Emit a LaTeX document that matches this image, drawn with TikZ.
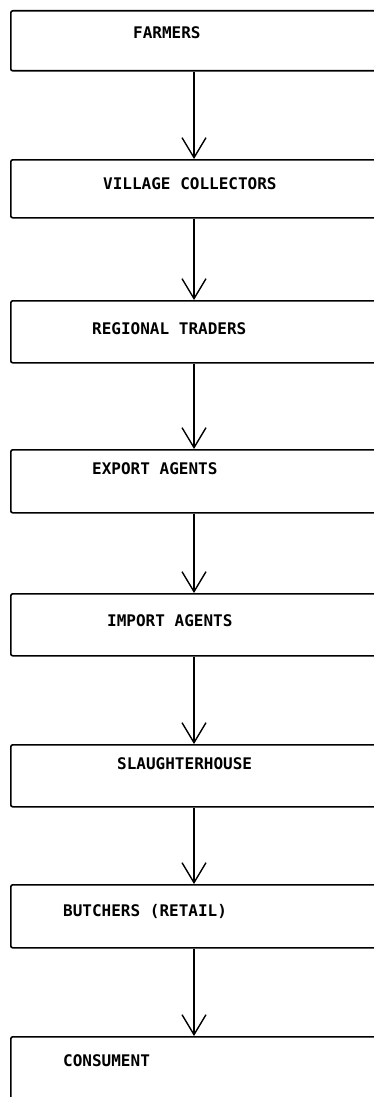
\documentclass[tikz,border=0pt]{standalone}
\usepackage{fontspec}
\newfontfamily\boxfont{DejaVu Sans Mono}
\usetikzlibrary{arrows.meta}
\tikzset{
  stagebox/.style={draw, line width=1.6pt, rounded corners=2pt, rectangle, anchor=north west, minimum width=420pt, inner sep=0pt},
  stagetext/.style={anchor=base west, inner sep=0pt, font=\boxfont\bfseries\fontsize{16}{18}\selectfont},
  flow/.style={line width=1.4pt, -{Straight Barb[length=20pt,width=24pt,line width=1.4pt]}}
}
\begin{document}
\begin{tikzpicture}[x=1pt,y=-1pt]
\useasboundingbox (0,0) rectangle (374,1097);
\clip (0,0) rectangle (374,1097);
\node[stagebox, minimum height=60pt] (b1) at (10,10) {};
\node[stagebox, minimum height=58pt] (b2) at (10,159) {};
\node[stagebox, minimum height=62pt] (b3) at (10,300) {};
\node[stagebox, minimum height=63pt] (b4) at (10,449) {};
\node[stagebox, minimum height=62pt] (b5) at (10,593) {};
\node[stagebox, minimum height=62pt] (b6) at (10,744) {};
\node[stagebox, minimum height=63pt] (b7) at (10,884) {};
\node[stagebox, minimum height=120pt] (b8) at (10,1036) {};
\node[stagetext] (t1) at (133,39) {FARMERS};
\node[stagetext] (t2) at (103,189) {VILLAGE COLLECTORS};
\node[stagetext] (t3) at (92,334) {REGIONAL TRADERS};
\node[stagetext] (t4) at (92,474) {EXPORT AGENTS};
\node[stagetext] (t5) at (107,626) {IMPORT AGENTS};
\node[stagetext] (t6) at (117,769) {SLAUGHTERHOUSE};
\node[stagetext] (t7) at (63,916) {BUTCHERS (RETAIL)};
\node[stagetext] (t8) at (63,1066) {CONSUMENT};
\foreach \a/\b in {b1/b2,b2/b3,b3/b4,b4/b5,b5/b6,b6/b7,b7/b8}
  \draw[flow] ([xshift=184pt]\a.south west) -- ([xshift=184pt]\b.north west);
\end{tikzpicture}
\end{document}
